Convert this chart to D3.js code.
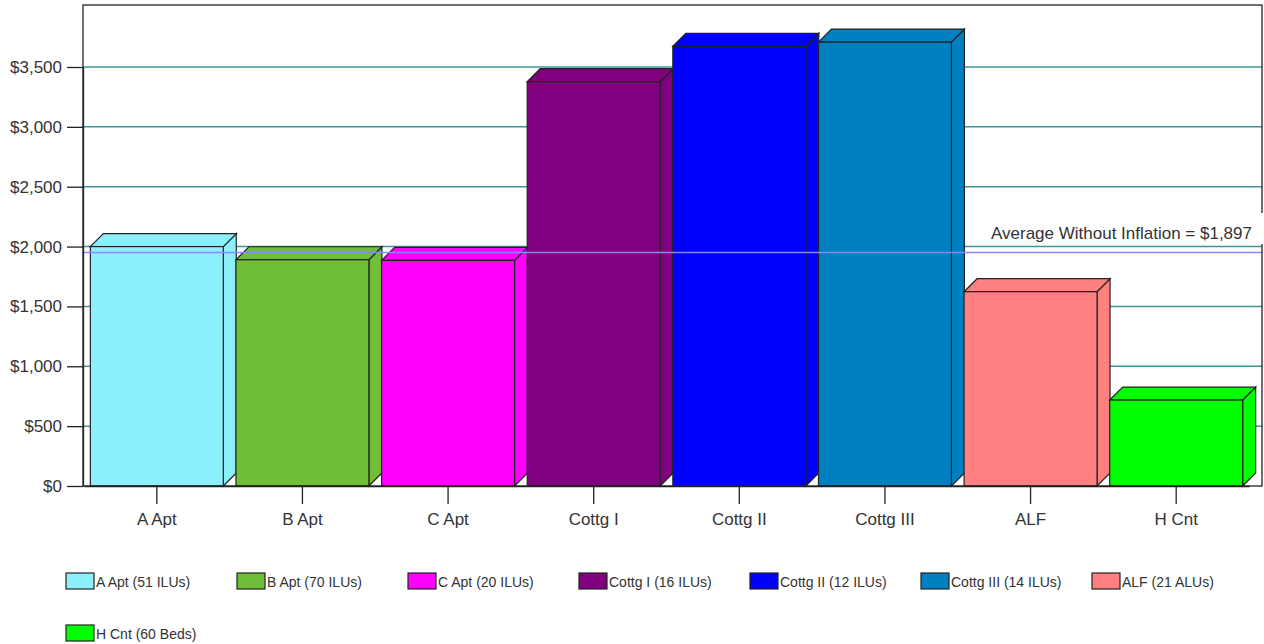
<!DOCTYPE html>
<html>
<head>
<meta charset="utf-8">
<script src="https://cdn.jsdelivr.net/npm/d3@7"></script>
<style>
  body { margin: 0; background: #fff; }
  text { font-family: Arial, 'Liberation Sans', sans-serif; fill: #333; }
</style>
</head>
<body>
<div id="chart"></div>
<script>
// chart data
var categories = ['A Apt', 'B Apt', 'C Apt', 'Cottg I', 'Cottg II', 'Cottg III', 'ALF', 'H Cnt'];
var values = [2000, 1890, 1885, 3377, 3673, 3708, 1623, 718];
var units = ['51 ILUs', '70 ILUs', '20 ILUs', '16 ILUs', '12 ILUs', '14 ILUs', '21 ALUs', '60 Beds'];
var colors = ['#8cf0fc', '#6fbf37', '#ff00ff', '#800080', '#0000ff', '#0080c0', '#ff8080', '#00ff00'];
var yTicks = [0, 500, 1000, 1500, 2000, 2500, 3000, 3500];
var average = 1897;
var averageLabel = 'Average Without Inflation = $1,897';

var svgWidth = 1264;
var svgHeight = 644;

var plot = { left: 83, right: 1262, top: 5, bottom: 486 };
var depth = 13;

var svg = d3.select('#chart')
    .append('svg')
    .attr('width', svgWidth)
    .attr('height', svgHeight);

var xScale = d3.scaleBand()
    .domain(categories)
    .range([plot.left + 1, plot.right - depth])
    .paddingInner(0.087)
    .paddingOuter(0.0435);

var yScale = d3.scaleLinear()
    .domain([0, 3500])
    .range([plot.bottom, 67]);

// gridlines
svg.append('g')
    .selectAll('line')
    .data(yTicks.filter(d => d > 0))
    .enter()
    .append('line')
    .attr('x1', plot.left)
    .attr('x2', plot.right)
    .attr('y1', d => yScale(d))
    .attr('y2', d => yScale(d))
    .attr('stroke', '#3a9898')
    .attr('stroke-width', 1.5);

// 3d bars
var bars = svg.append('g')
    .selectAll('g')
    .data(categories.map((c, i) => ({ cat: c, value: values[i], color: colors[i] })))
    .enter()
    .append('g');

function sidePoints(d) {
    var xr = xScale(d.cat) + xScale.bandwidth();
    var y0 = yScale(0), yt = yScale(d.value);
    return [[xr, y0], [xr + depth, y0 - depth], [xr + depth, yt - depth], [xr, yt]];
}
function topPoints(d) {
    var xl = xScale(d.cat), xr = xl + xScale.bandwidth();
    var yt = yScale(d.value);
    return [[xl, yt], [xl + depth, yt - depth], [xr + depth, yt - depth], [xr, yt]];
}

bars.append('polygon')
    .attr('points', d => sidePoints(d).join(' '))
    .attr('fill', d => d.color)
    .attr('stroke', '#222')
    .attr('stroke-width', 1.2);

bars.append('polygon')
    .attr('points', d => topPoints(d).join(' '))
    .attr('fill', d => d.color)
    .attr('stroke', '#222')
    .attr('stroke-width', 1.2);

bars.append('rect')
    .attr('x', d => xScale(d.cat))
    .attr('y', d => yScale(d.value))
    .attr('width', xScale.bandwidth())
    .attr('height', d => yScale(0) - yScale(d.value))
    .attr('fill', d => d.color)
    .attr('stroke', '#222')
    .attr('stroke-width', 1.2);

// average line
var avgY = yScale(average) - depth / 2;
svg.append('line')
    .attr('x1', plot.left)
    .attr('x2', plot.right)
    .attr('y1', avgY)
    .attr('y2', avgY)
    .attr('stroke', '#8a86ff')
    .attr('stroke-width', 1.5);

// frame
svg.append('rect')
    .attr('x', plot.left)
    .attr('y', plot.top)
    .attr('width', plot.right - plot.left)
    .attr('height', plot.bottom - plot.top)
    .attr('fill', 'none')
    .attr('stroke', '#222')
    .attr('stroke-width', 1.3);

// average label
svg.append('rect')
    .attr('x', 975)
    .attr('y', 213)
    .attr('width', svgWidth - 975)
    .attr('height', 31)
    .attr('fill', '#fff');

svg.append('text')
    .attr('x', 1252)
    .attr('y', 239)
    .attr('text-anchor', 'end')
    .attr('font-size', '17px')
    .text(averageLabel);

// axes
var leftAxis = d3.axisLeft(yScale)
    .tickValues(yTicks)
    .tickSize(16)
    .tickSizeOuter(0)
    .tickPadding(5)
    .tickFormat(d => '$' + d3.format(',')(d));

var yAxis = svg.append('g')
    .attr('transform', `translate(${plot.left}, 0)`)
    .call(leftAxis);

var bottomAxis = d3.axisBottom(xScale)
    .tickSize(18)
    .tickSizeOuter(0)
    .tickPadding(9);

var xAxis = svg.append('g')
    .attr('transform', `translate(0, ${plot.bottom})`)
    .call(bottomAxis);

[yAxis, xAxis].forEach(function(ax) {
    ax.select('.domain').attr('stroke', '#222').attr('stroke-width', 1.3);
    ax.selectAll('.tick line').attr('stroke', '#222').attr('stroke-width', 1.3);
    ax.selectAll('.tick text')
        .attr('fill', '#333')
        .attr('font-size', '17px')
        .attr('font-family', "Arial, 'Liberation Sans', sans-serif");
});

// legend
var legend = svg.append('g')
    .selectAll('g')
    .data(categories)
    .enter()
    .append('g')
    .attr('transform', (d, i) => `translate(${66 + (i % 7) * 171}, ${573 + Math.floor(i / 7) * 52})`);

legend.append('rect')
    .attr('width', 28)
    .attr('height', 16)
    .attr('fill', (d, i) => colors[i])
    .attr('stroke', '#222')
    .attr('stroke-width', 1.2);

legend.append('text')
    .attr('x', 30)
    .attr('y', 14)
    .attr('font-size', '14px')
    .text((d, i) => `${d} (${units[i]})`);
</script>
</body>
</html>
